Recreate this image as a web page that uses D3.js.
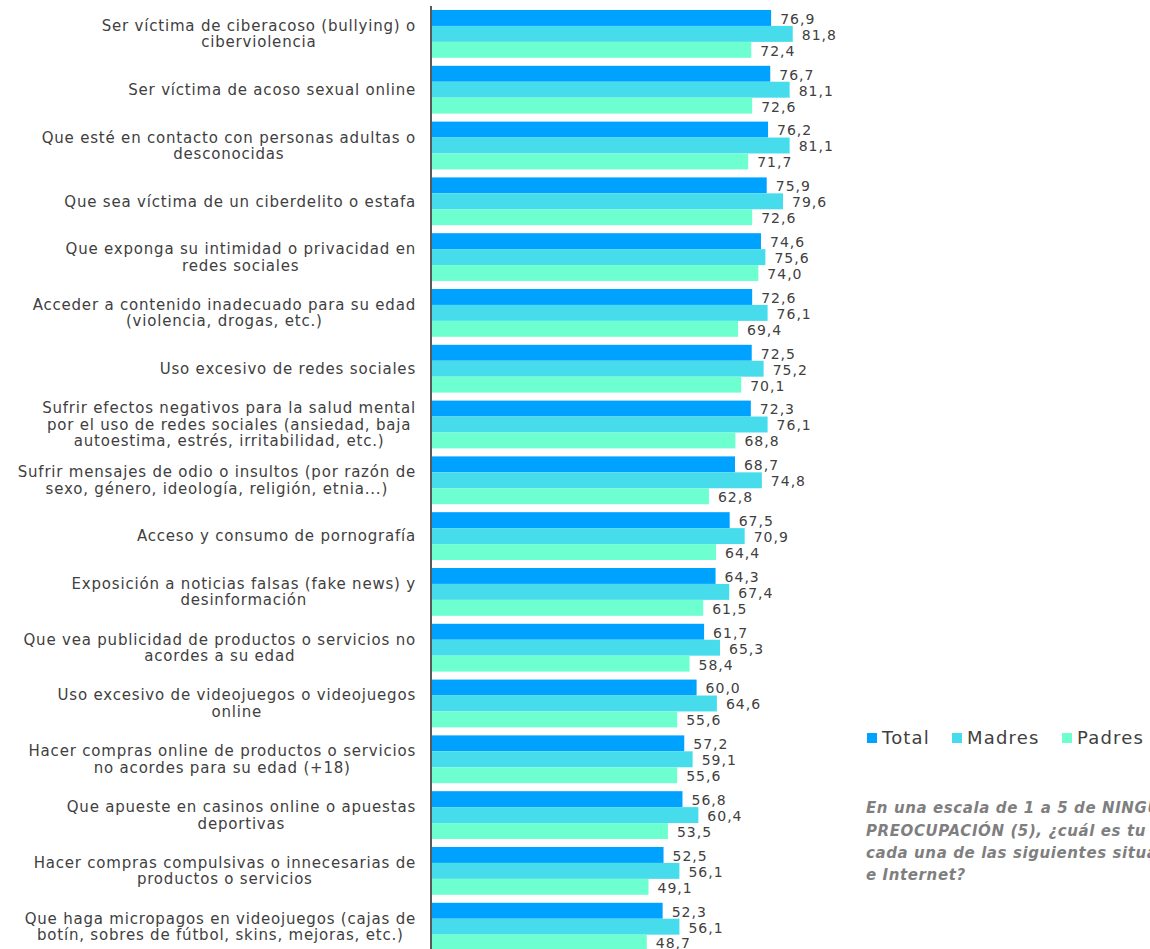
<!DOCTYPE html>
<html>
<head>
<meta charset="utf-8">
<script src="https://cdn.jsdelivr.net/npm/d3@7"></script>
<style>
  body { margin: 0; background: #fff; overflow: hidden; }
  svg { display: block; }
  text { font-family: "DejaVu Sans", sans-serif; }
</style>
</head>
<body>
<div id="chart"></div>
<script>
// categorias (cada una partida en lineas como en el original)
var categories = [
    ['Ser víctima de ciberacoso (bullying) o', 'ciberviolencia'],
    ['Ser víctima de acoso sexual online'],
    ['Que esté en contacto con personas adultas o', 'desconocidas'],
    ['Que sea víctima de un ciberdelito o estafa'],
    ['Que exponga su intimidad o privacidad en', 'redes sociales'],
    ['Acceder a contenido inadecuado para su edad', '(violencia, drogas, etc.)'],
    ['Uso excesivo de redes sociales'],
    ['Sufrir efectos negativos para la salud mental', 'por el uso de redes sociales (ansiedad, baja', 'autoestima, estrés, irritabilidad, etc.)'],
    ['Sufrir mensajes de odio o insultos (por razón de', 'sexo, género, ideología, religión, etnia...)'],
    ['Acceso y consumo de pornografía'],
    ['Exposición a noticias falsas (fake news) y', 'desinformación'],
    ['Que vea publicidad de productos o servicios no', 'acordes a su edad'],
    ['Uso excesivo de videojuegos o videojuegos', 'online'],
    ['Hacer compras online de productos o servicios', 'no acordes para su edad (+18)'],
    ['Que apueste en casinos online o apuestas', 'deportivas'],
    ['Hacer compras compulsivas o innecesarias de', 'productos o servicios'],
    ['Que haga micropagos en videojuegos (cajas de', 'botín, sobres de fútbol, skins, mejoras, etc.)']
];

var series_names = ['Total', 'Madres', 'Padres'];
var series_colors = ['#00a2ff', '#47dceb', '#6effd0'];

var total_values  = [76.9, 76.7, 76.2, 75.9, 74.6, 72.6, 72.5, 72.3, 68.7, 67.5, 64.3, 61.7, 60.0, 57.2, 56.8, 52.5, 52.3];
var madres_values = [81.8, 81.1, 81.1, 79.6, 75.6, 76.1, 75.2, 76.1, 74.8, 70.9, 67.4, 65.3, 64.6, 59.1, 60.4, 56.1, 56.1];
var padres_values = [72.4, 72.6, 71.7, 72.6, 74.0, 69.4, 70.1, 68.8, 62.8, 64.4, 61.5, 58.4, 55.6, 55.6, 53.5, 49.1, 48.7];

var note_lines = [
    'En una escala de 1 a 5 de NINGUNA PREOCUPACIÓN (1) a MÁXIMA',
    'PREOCUPACIÓN (5), ¿cuál es tu nivel de preocupación ante',
    'cada una de las siguientes situaciones en el uso de redes sociales',
    'e Internet?'
];

var w = 1150;
var h = 949;

var all_series = [total_values, madres_values, padres_values];
var rows = categories.map(function(c, i) {
    return { id: i, lines: c, values: all_series.map(function(s) { return s[i]; }) };
});

var svg = d3.select('#chart')
            .append('svg')
            .attr('width', w)
            .attr('height', h);

var xScale = d3.scaleLinear()
    .domain([0, 100])
    .range([432, 873]);

var yScale = d3.scaleBand()
    .domain(rows.map(function(d) { return d.id; }))
    .range([6, 6 + 17 * 55.8])
    .paddingInner(0.143)
    .paddingOuter(0.0717);

var subScale = d3.scaleBand()
    .domain([0, 1, 2])
    .range([0, yScale.bandwidth()]);

var groups = svg.selectAll('g.row')
    .data(rows)
    .enter()
    .append('g')
    .attr('class', 'row')
    .attr('transform', function(d) { return 'translate(0,' + yScale(d.id) + ')'; });

groups.selectAll('rect')
    .data(function(d) { return d.values; })
    .enter()
    .append('rect')
    .attr('x', xScale(0))
    .attr('y', function(d, i) { return subScale(i); })
    .attr('width', function(d) { return xScale(d) - xScale(0); })
    .attr('height', subScale.bandwidth())
    .attr('fill', function(d, i) { return series_colors[i]; });

groups.selectAll('text.value')
    .data(function(d) { return d.values; })
    .enter()
    .append('text')
    .attr('class', 'value')
    .attr('x', function(d) { return xScale(d) + 9; })
    .attr('y', function(d, i) { return subScale(i) + subScale.bandwidth() / 2; })
    .attr('dy', '0.42em')
    .attr('font-size', 14)
    .attr('letter-spacing', '1px')
    .attr('fill', '#404040')
    .text(function(d) { return d3.format('.1f')(d).replace('.', ','); });

// etiquetas de categoria: bloque alineado a la derecha, lineas centradas
var label_right = 416;
var line_h = 16.5;

groups.each(function(d) {
    var g = d3.select(this);
    var t = g.append('text')
        .attr('font-size', 15)
        .attr('letter-spacing', '0.8px')
        .attr('fill', '#404040')
        .attr('text-anchor', 'middle');
    var n = d.lines.length;
    var mid = yScale.bandwidth() / 2;
    d.lines.forEach(function(line, k) {
        t.append('tspan')
            .attr('y', mid + (k - (n - 1) / 2) * line_h)
            .attr('dy', '0.35em')
            .text(line);
    });
    var max_w = 0;
    t.selectAll('tspan').each(function() {
        max_w = Math.max(max_w, this.getComputedTextLength());
    });
    t.selectAll('tspan').attr('x', label_right - max_w / 2);
});

// eje vertical
svg.append('line')
    .attr('x1', 431)
    .attr('x2', 431)
    .attr('y1', 6)
    .attr('y2', h)
    .attr('stroke', '#222')
    .attr('stroke-width', 1.5);

// leyenda
var legend_x = [867, 952, 1062];
var legend = svg.selectAll('g.legend')
    .data(series_names)
    .enter()
    .append('g')
    .attr('class', 'legend')
    .attr('transform', function(d, i) { return 'translate(' + legend_x[i] + ',738)'; });

legend.append('rect')
    .attr('x', 0)
    .attr('y', -5)
    .attr('width', 10)
    .attr('height', 10)
    .attr('fill', function(d, i) { return series_colors[i]; });

legend.append('text')
    .attr('x', 15)
    .attr('y', 0)
    .attr('dy', '0.36em')
    .attr('font-size', 18)
    .attr('letter-spacing', '1.2px')
    .attr('fill', '#404040')
    .text(function(d) { return d; });

// nota de la pregunta
var note = svg.append('text')
    .attr('font-size', 15)
    .attr('font-weight', 'bold')
    .attr('font-style', 'italic')
    .attr('letter-spacing', '0.6px')
    .attr('fill', '#7f7f7f');

note.selectAll('tspan')
    .data(note_lines)
    .enter()
    .append('tspan')
    .attr('x', 866)
    .attr('y', function(d, i) { return 808 + i * 22.3; })
    .attr('dy', '0.35em')
    .text(function(d) { return d; });
</script>
</body>
</html>
